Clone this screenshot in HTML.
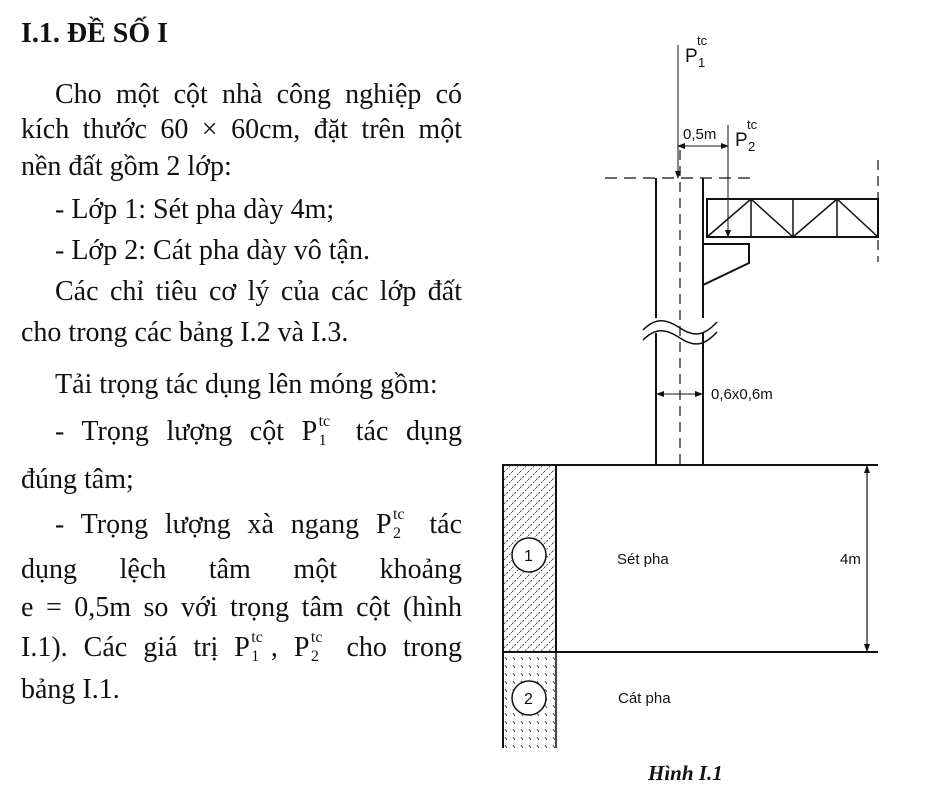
<!DOCTYPE html>
<html><head><meta charset="utf-8"><style>
body{margin:0;background:#fff;width:937px;height:787px;overflow:hidden;position:relative;font-family:"Liberation Serif",serif;color:#111}
.l{position:absolute;left:21px;width:441px;font-size:28px;line-height:30px;white-space:nowrap}
.j{text-align:justify;text-align-last:justify;white-space:normal}
.i{padding-left:34px;box-sizing:border-box}
.pp{display:inline-block;position:relative}
.pp b{font-weight:normal;position:absolute;font-size:16px;left:17px}
svg{position:absolute;left:0;top:0}
</style></head><body>
<div class="l" style="top:19px;font-weight:bold;font-size:28px">I.1. ĐỀ SỐ I</div>
<div class="l j i" style="top:80px">Cho một cột nhà công nghiệp có</div>
<div class="l j" style="top:115px">kích thước 60 × 60cm, đặt trên một</div>
<div class="l" style="top:152px">nền đất gồm 2 lớp:</div>
<div class="l i" style="top:195px">- Lớp 1: Sét pha dày 4m;</div>
<div class="l i" style="top:236px">- Lớp 2: Cát pha dày vô tận.</div>
<div class="l j i" style="top:277px">Các chỉ tiêu cơ lý của các lớp đất</div>
<div class="l" style="top:318px">cho trong các bảng I.2 và I.3.</div>
<div class="l i" style="top:370px">Tải trọng tác dụng lên móng gồm:</div>
<div class="l j i" style="top:417px">- Trọng lượng cột <span class="pp">P&nbsp;&nbsp;&nbsp;<b style="top:-10px">tc</b><b style="top:9px">1</b></span> tác dụng</div>
<div class="l" style="top:465px">đúng tâm;</div>
<div class="l j i" style="top:510px">- Trọng lượng xà ngang <span class="pp">P&nbsp;&nbsp;&nbsp;<b style="top:-10px">tc</b><b style="top:9px">2</b></span> tác</div>
<div class="l j" style="top:555px">dụng lệch tâm một khoảng</div>
<div class="l j" style="top:593px">e = 0,5m so với trọng tâm cột (hình</div>
<div class="l j" style="top:633px">I.1). Các giá trị <span class="pp">P&nbsp;&nbsp;&nbsp;<b style="top:-10px">tc</b><b style="top:9px">1</b></span>, <span class="pp">P&nbsp;&nbsp;&nbsp;<b style="top:-10px">tc</b><b style="top:9px">2</b></span> cho trong</div>
<div class="l" style="top:675px">bảng I.1.</div>

<svg width="937" height="787" viewBox="0 0 937 787" font-family="Liberation Sans, sans-serif">
<defs>
<pattern id="h1" width="8" height="8" patternUnits="userSpaceOnUse"><path d="M0 8 L8 0" stroke="#333" stroke-width="0.8" stroke-dasharray="2 1.5"/></pattern>
<pattern id="h2" width="8" height="8" patternUnits="userSpaceOnUse"><path d="M1 1 L3 4" stroke="#333" stroke-width="0.8"/></pattern>
<marker id="a" markerWidth="8" markerHeight="6" refX="7" refY="3" orient="auto-start-reverse" markerUnits="userSpaceOnUse"><path d="M0 0 L8 3 L0 6z" fill="#111"/></marker>
</defs>
<g stroke="#111" fill="none">
<rect x="503" y="465" width="53" height="187" fill="url(#h1)" stroke-width="2"/>
<rect x="503" y="652" width="53" height="96" fill="url(#h2)" stroke="none"/>
<line x1="503" y1="652" x2="503" y2="748" stroke-width="2"/>
<line x1="556" y1="652" x2="556" y2="748" stroke-width="1.5"/>
<line x1="503" y1="465" x2="878" y2="465" stroke-width="2"/>
<line x1="503" y1="652" x2="878" y2="652" stroke-width="2"/>
<circle cx="529" cy="555" r="17" fill="#fff" stroke-width="1.5"/>
<circle cx="529" cy="698" r="17" fill="#fff" stroke-width="1.5"/>
<line x1="867" y1="466" x2="867" y2="651" stroke-width="1.2" marker-start="url(#a)" marker-end="url(#a)"/>
<path d="M656 178 V318 M703 178 V318 M656 333 V465 M703 333 V465" stroke-width="2"/>
<path d="M643 330 C655 318,665 318,680 328 C695 338,705 335,717 322" stroke-width="1.5" fill="#fff"/>
<path d="M643 340 C655 328,665 328,680 338 C695 348,705 345,717 332" stroke-width="1.5"/>
<line x1="680" y1="150" x2="680" y2="465" stroke-width="1.2" stroke-dasharray="10 6"/>
<line x1="605" y1="178" x2="752" y2="178" stroke-width="1.2" stroke-dasharray="12 7"/>
<line x1="657" y1="394" x2="702" y2="394" stroke-width="1" marker-start="url(#a)" marker-end="url(#a)"/>
<line x1="678" y1="45" x2="678" y2="178" stroke-width="1" marker-end="url(#a)"/>
<line x1="728" y1="125" x2="728" y2="237" stroke-width="1" marker-end="url(#a)"/>
<line x1="678" y1="146" x2="728" y2="146" stroke-width="1" marker-start="url(#a)" marker-end="url(#a)"/>
<rect x="707" y="199" width="171" height="38" stroke-width="2"/>
<path d="M751 199 V237 M793 199 V237 M837 199 V237 M707 237 L751 199 L793 237 L837 199 L878 237" stroke-width="1.5"/>
<line x1="878" y1="160" x2="878" y2="262" stroke-width="1.2" stroke-dasharray="10 6"/>
<path d="M703 244 H749 V263 L703 285" stroke-width="2"/>
</g>
<g fill="#111" font-size="15">
<text x="685" y="62" font-size="19">P</text><text x="697" y="45" font-size="13">tc</text><text x="698" y="67" font-size="13">1</text>
<text x="683" y="139">0,5m</text>
<text x="735" y="146" font-size="19">P</text><text x="747" y="129" font-size="13">tc</text><text x="748" y="151" font-size="13">2</text>
<text x="711" y="399">0,6x0,6m</text>
<text x="524" y="561" font-size="16">1</text>
<text x="524" y="704" font-size="16">2</text>
<text x="617" y="564">Sét pha</text>
<text x="618" y="703">Cát pha</text>
<text x="840" y="564">4m</text>
<text x="648" y="780" font-family="Liberation Serif, serif" font-size="21" font-style="italic" font-weight="bold">Hình I.1</text>
</g>
</svg>
</body></html>
